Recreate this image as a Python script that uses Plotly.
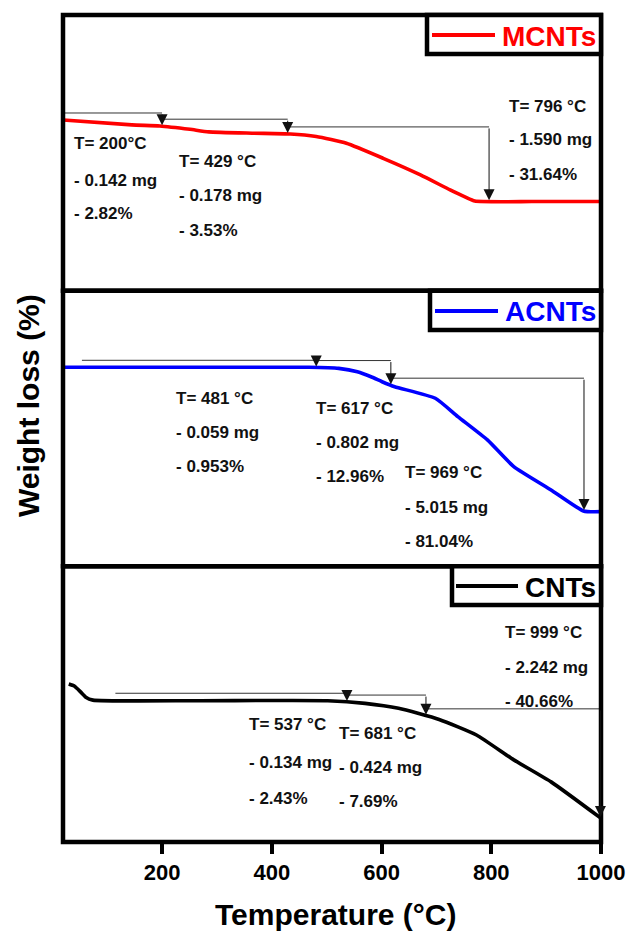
import numpy as np
import plotly.graph_objects as go
from plotly.subplots import make_subplots

# ---------------- data ----------------
TEMP_TICKS = [200, 400, 600, 800, 1000]

# MCNTs thermogram (temperature in degC, relative weight in %)
MCNT_T = [20, 145, 196, 251, 285, 366, 434, 481, 536, 603, 671, 725, 753, 770, 875, 1000]
MCNT_W = [100.0, 98.1, 97.7, 96.4, 95.4, 94.9, 94.6, 93.6, 91.0, 85.2, 78.8, 73.0, 70.2, 68.7, 68.5, 68.5]

# ACNTs thermogram
ACNT_T = [20, 373, 468, 522, 556, 583, 601, 624, 698, 739, 793, 841, 909, 968, 1000]
ACNT_W = [100.0, 100.0, 100.0, 99.4, 97.5, 94.4, 91.9, 89.1, 82.6, 72.3, 59.2, 44.2, 31.1, 19.3, 18.9]

# CNTs thermogram
CNT_T = [30, 40, 51, 61, 74, 264, 502, 570, 631, 705, 773, 841, 909, 999]
CNT_W = [100.0, 99.3, 97.4, 95.5, 94.5, 94.3, 94.3, 93.4, 91.7, 87.9, 82.6, 74.1, 66.6, 54.3]

# Decomposition steps: temperature, mass loss (mg), weight loss (%)
MCNT_STEP_T = [200, 429, 796]
MCNT_STEP_MG = [0.142, 0.178, 1.590]
MCNT_STEP_PCT = [2.82, 3.53, 31.64]

ACNT_STEP_T = [481, 617, 969]
ACNT_STEP_MG = [0.059, 0.802, 5.015]
ACNT_STEP_PCT = [0.953, 12.96, 81.04]

CNT_STEP_T = [537, 681, 999]
CNT_STEP_MG = [0.134, 0.424, 2.242]
CNT_STEP_PCT = [2.43, 7.69, 40.66]

SERIES_NAMES = ["MCNTs", "ACNTs", "CNTs"]

# ---------------- layout helpers ----------------
W, H = 630, 934
PL, PR, PT, PB = 63, 601, 15, 842          # plot area in page pixels
PANEL_H = (PB - PT) / 3
X_RANGE = [19.5, 1000]
FONT = "Liberation Sans, Arial, sans-serif"
GUIDE_GAP_PX = 7      # height of the step guide above the curve


def px_x(px):
    return (px - PL) / (PR - PL)


def px_y(py):
    return (PB - py) / (PB - PT)


panels = [
    dict(name=SERIES_NAMES[0], T=MCNT_T, Wt=MCNT_W, color="#ff0000",
         steps=MCNT_STEP_T, mg=MCNT_STEP_MG, pct=MCNT_STEP_PCT, tsep=["", " ", " "],
         yrange=[34.1, 140.54], line_start=19.5,
         text_pos=[(72, [144, 180, 214]), (177, [161, 196, 230]), (507, [106, 140, 174])],
         box=dict(x0=427, y0=15, y1=54, lx0=432, lx1=495, ly=35, tx=598)),
    dict(name=SERIES_NAMES[1], T=ACNT_T, Wt=ACNT_W, color="#0000ff",
         steps=ACNT_STEP_T, mg=ACNT_STEP_MG, pct=ACNT_STEP_PCT, tsep=[" ", " ", " "],
         yrange=[-11.81, 143.05], line_start=54,
         text_pos=[(174, [398, 432, 466]), (314, [408, 442, 476]), (403, [473, 508, 541])],
         box=dict(x0=430, y0=290.7, y1=330, lx0=435, lx1=498, ly=311, tx=598)),
    dict(name=SERIES_NAMES[2], T=CNT_T, Wt=CNT_W, color="#000000",
         steps=CNT_STEP_T, mg=CNT_STEP_MG, pct=CNT_STEP_PCT, tsep=[" ", " ", " "],
         yrange=[46.08, 140.16], line_start=115,
         text_pos=[(247, [724, 762, 798]), (337, [733, 767, 801]), (503, [632, 667, 701])],
         box=dict(x0=452, y0=566.3, y1=605, lx0=456, lx1=518, ly=586, tx=598)),
]

fig = make_subplots(rows=3, cols=1, shared_xaxes=True, vertical_spacing=0)

annotations = []
shapes = []

for i, p in enumerate(panels):
    row = i + 1
    sfx = "" if row == 1 else str(row)
    xr, yr = "x" + sfx, "y" + sfx
    unit_px = PANEL_H / (p["yrange"][1] - p["yrange"][0])   # pixels per % on this panel

    # thermogram curve
    fig.add_trace(go.Scatter(x=p["T"], y=p["Wt"], mode="lines", name=p["name"],
                             line=dict(color=p["color"], width=3.6, shape="spline", smoothing=0.5),
                             showlegend=False, hoverinfo="skip"), row=row, col=1)

    # step markers: horizontal guide from the previous step, then a downward arrow
    prev_t = p["line_start"]
    for t in p["steps"]:
        level = float(np.interp(prev_t, p["T"], p["Wt"])) + GUIDE_GAP_PX / unit_px
        tip = float(np.interp(t, p["T"], p["Wt"])) + 1.0 / unit_px
        fig.add_trace(go.Scatter(x=[prev_t, t], y=[level, level], mode="lines",
                                 line=dict(color="#333333", width=1),
                                 showlegend=False, hoverinfo="skip"), row=row, col=1)
        annotations.append(dict(x=t, y=tip, xref=xr, yref=yr, ax=t, ay=level,
                                axref=xr, ayref=yr, text="", showarrow=True,
                                arrowhead=2, arrowsize=2.2, arrowwidth=1,
                                arrowcolor="#111111", standoff=0))
        prev_t = t

    # step labels
    for k, (tx, ys) in enumerate(p["text_pos"]):
        lines = [f"T= {p['steps'][k]}{p['tsep'][k]}°C",
                 f"- {p['mg'][k]:.3f} mg",
                 f"- {p['pct'][k]}%"]
        for txt, ty in zip(lines, ys):
            annotations.append(dict(x=px_x(tx), y=px_y(ty), xref="paper", yref="paper",
                                    text=txt, showarrow=False, xanchor="left", yanchor="middle",
                                    font=dict(family=FONT, size=17, color="#111111", weight="bold")))

    # panel frame
    top = PT + i * PANEL_H
    shapes.append(dict(type="rect", xref="paper", yref="paper",
                       x0=0, x1=1, y0=px_y(top + PANEL_H), y1=px_y(top),
                       line=dict(color="black", width=4.5), layer="above"))

    # series key box
    b = p["box"]
    shapes.append(dict(type="rect", xref="paper", yref="paper",
                       x0=px_x(b["x0"]), x1=1, y0=px_y(b["y1"]), y1=px_y(b["y0"]),
                       line=dict(color="black", width=4.5), fillcolor="white", layer="above"))
    shapes.append(dict(type="line", xref="paper", yref="paper",
                       x0=px_x(b["lx0"]), x1=px_x(b["lx1"]), y0=px_y(b["ly"]), y1=px_y(b["ly"]),
                       line=dict(color=p["color"], width=4), layer="above"))
    annotations.append(dict(x=px_x(b["tx"]), y=px_y(b["ly"] + 1), xref="paper", yref="paper",
                            text=p["name"], showarrow=False, xanchor="right", yanchor="middle",
                            font=dict(family=FONT, size=28, color=p["color"], weight="bold")))

    fig.update_yaxes(range=p["yrange"], showticklabels=False, ticks="", showgrid=False,
                     zeroline=False, showline=False, automargin=False, row=row, col=1)

# axis titles
annotations.append(dict(x=px_x(335), y=px_y(914), xref="paper", yref="paper",
                        text="Temperature (°C)", showarrow=False, xanchor="center", yanchor="middle",
                        font=dict(family=FONT, size=30, color="black", weight="bold")))
annotations.append(dict(x=px_x(28), y=px_y(406), xref="paper", yref="paper",
                        text="Weight loss (%)", showarrow=False, textangle=-90,
                        xanchor="center", yanchor="middle",
                        font=dict(family=FONT, size=30, color="black", weight="bold")))

fig.update_xaxes(range=X_RANGE, showgrid=False, zeroline=False, showline=False,
                 showticklabels=False, ticks="", automargin=False)
fig.update_xaxes(tickmode="array", tickvals=TEMP_TICKS, ticktext=[str(v) for v in TEMP_TICKS],
                 ticks="outside", ticklen=11, tickwidth=4, tickcolor="black",
                 showticklabels=True,
                 tickfont=dict(family=FONT, size=22, color="black", weight="bold"),
                 row=3, col=1)

fig.update_layout(width=W, height=H, margin=dict(l=PL, r=W - PR, t=PT, b=H - PB, autoexpand=False),
                  paper_bgcolor="white", plot_bgcolor="white",
                  annotations=annotations, shapes=shapes, showlegend=False)

fig.write_html("out.html")
